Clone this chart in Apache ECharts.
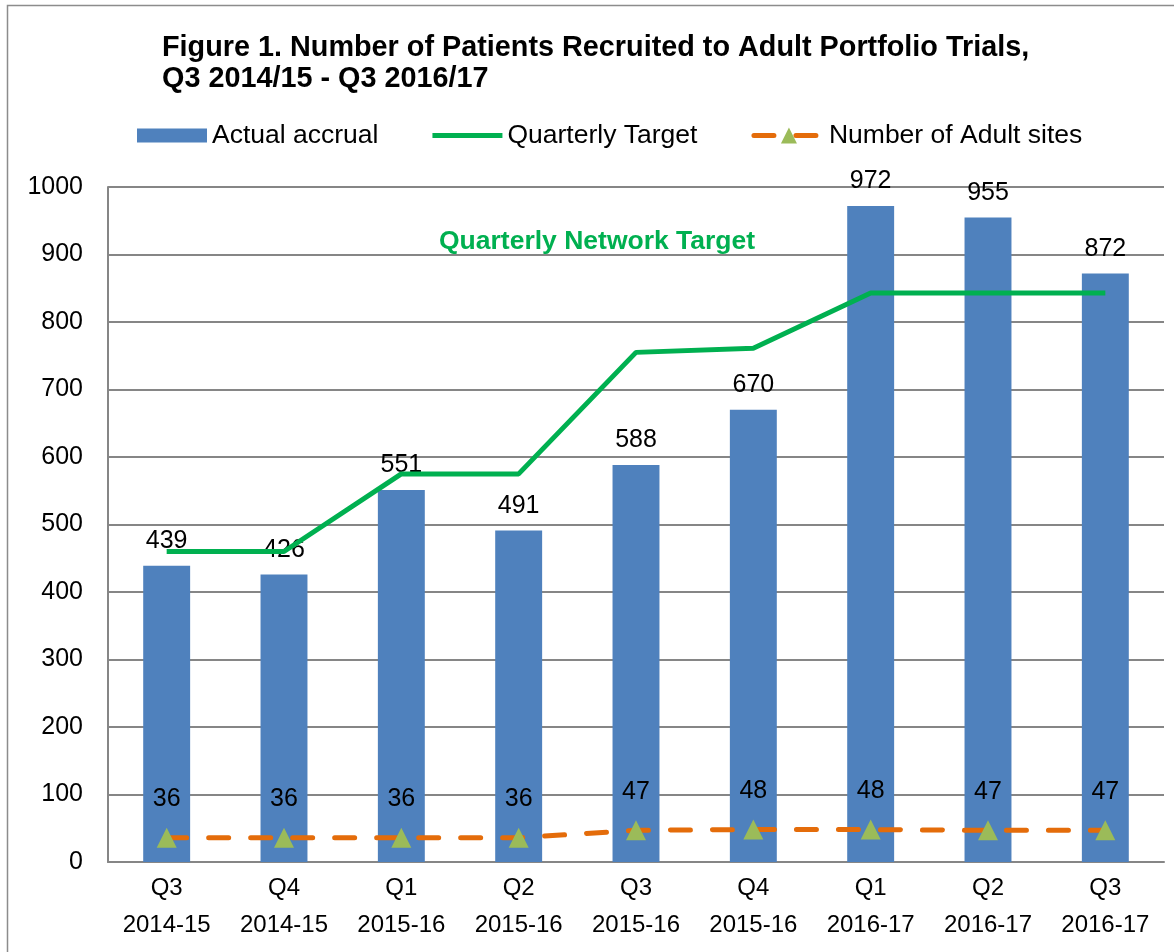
<!DOCTYPE html>
<html>
<head>
<meta charset="utf-8">
<script src="https://cdn.jsdelivr.net/npm/echarts@6/dist/echarts.min.js"></script>
<style>
  html, body { margin: 0; padding: 0; background: #fff; }
  #chart { width: 1174px; height: 952px; }
</style>
</head>
<body>
<div id="chart"></div>
<script>
// chart data
const categories = ['Q3\n2014-15', 'Q4\n2014-15', 'Q1\n2015-16', 'Q2\n2015-16', 'Q3\n2015-16',
  'Q4\n2015-16', 'Q1\n2016-17', 'Q2\n2016-17', 'Q3\n2016-17'];
const actualAccrual = [439, 426, 551, 491, 588, 670, 972, 955, 872];
const quarterlyTarget = [460, 460, 575, 575, 755, 761, 843, 843, 843];
const adultSites = [36, 36, 36, 36, 47, 48, 48, 47, 47];

const font = 'Liberation Sans, Arial, sans-serif';
const chart = echarts.init(document.getElementById('chart'));

const option = {
  animation: false,
  backgroundColor: '#fff',
  textStyle: { fontFamily: font },
  title: [
    {
      text: 'Figure 1. Number of Patients Recruited to Adult Portfolio Trials,\nQ3 2014/15 - Q3 2016/17',
      left: 157,
      top: 28,
      textStyle: { fontSize: 28.8, fontWeight: 'bold', color: '#000', lineHeight: 31, fontFamily: font }
    },
    {
      text: 'Quarterly Network Target',
      left: 434,
      top: 223,
      textStyle: { fontSize: 26.5, fontWeight: 'bold', color: '#00B050', fontFamily: font }
    }
  ],
  graphic: [
    {
      type: 'rect',
      shape: { x: 7.5, y: 5.5, width: 1180, height: 960 },
      style: { fill: 'none', stroke: '#8c8c8c', lineWidth: 1.5 },
      silent: true
    }
  ],
  legend: {
    top: 117,
    left: 132,
    itemGap: 54,
    itemWidth: 70,
    itemHeight: 20,
    textStyle: { fontSize: 26.5, color: '#000', fontFamily: font },
    data: [
      { name: 'Actual accrual', icon: 'path://M0,0 L70,0 L70,14 L0,14 Z', itemStyle: { color: '#4F81BD' } },
      { name: 'Quarterly Target', icon: 'path://M0,0 L72,0 L72,5 L0,5 Z', itemStyle: { color: '#00B050' } },
      { name: 'Number of Adult sites', lineStyle: { width: 5 } }
    ]
  },
  grid: { left: 108, right: 10, top: 187, bottom: 90, containLabel: false },
  xAxis: {
    type: 'category',
    data: categories,
    axisLine: { lineStyle: { color: '#868686', width: 2 } },
    axisTick: { show: false },
    axisLabel: { interval: 0, hideOverlap: false, fontSize: 24, color: '#000', lineHeight: 37, margin: 8, fontFamily: font }
  },
  yAxis: {
    type: 'value',
    min: 0,
    max: 1000,
    interval: 100,
    axisLine: { show: true, lineStyle: { color: '#868686', width: 2 } },
    axisTick: { show: false },
    splitLine: { lineStyle: { color: '#868686', width: 2 } },
    axisLabel: { fontSize: 25, color: '#000', margin: 25, fontFamily: font, formatter: (v) => String(v) }
  },
  series: [
    {
      name: 'Actual accrual',
      type: 'bar',
      data: actualAccrual,
      barWidth: '40%',
      itemStyle: { color: '#4F81BD' },
      label: { show: true, position: 'top', distance: 12, fontSize: 25, color: '#000', fontFamily: font },
      z: 1
    },
    {
      name: 'Quarterly Target',
      type: 'line',
      data: quarterlyTarget,
      symbol: 'none',
      lineStyle: { color: '#00B050', width: 5 },
      itemStyle: { color: '#00B050' },
      z: 3
    },
    {
      name: 'Number of Adult sites',
      type: 'line',
      data: adultSites,
      symbol: 'triangle',
      symbolSize: 20,
      lineStyle: { color: '#E46C0A', width: 5, type: [20, 22], cap: 'round' },
      itemStyle: { color: '#9BBB59', borderWidth: 0 },
      label: { show: true, position: 'top', distance: 16, fontSize: 25, color: '#000', fontFamily: font },
      z: 4
    }
  ]
};

chart.setOption(option);
</script>
</body>
</html>
